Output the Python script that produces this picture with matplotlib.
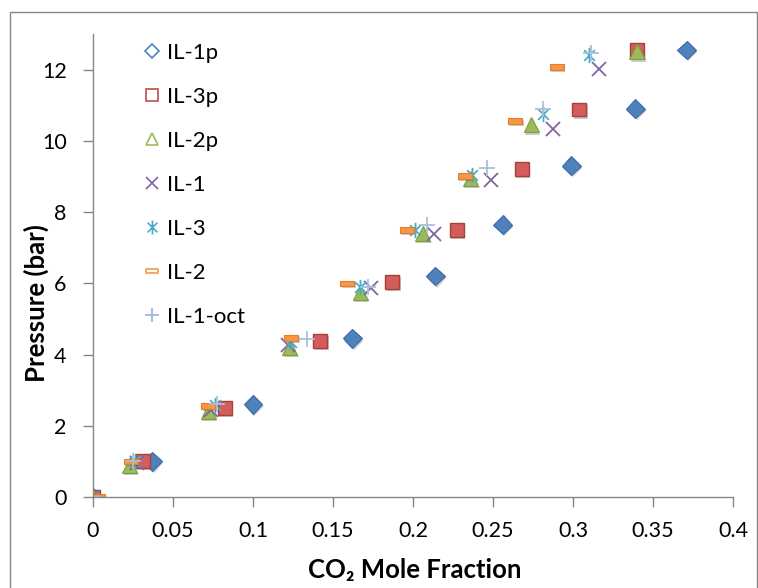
import numpy as np
import matplotlib
matplotlib.use('Agg')
import matplotlib.pyplot as plt
import matplotlib.patheffects as pe
from matplotlib.path import Path
from matplotlib.lines import Line2D
from matplotlib.patches import Rectangle

plt.rcParams['font.family'] = ['Lato', 'DejaVu Sans']

# datos
il1p_x = [0, 0.037, 0.100, 0.162, 0.214, 0.256, 0.299, 0.339, 0.371]
il1p_y = [0, 1.0, 2.6, 4.45, 6.2, 7.65, 9.3, 10.9, 12.55]
il3p_x = [0, 0.031, 0.0825, 0.142, 0.187, 0.2275, 0.268, 0.304, 0.340]
il3p_y = [0, 1.0, 2.5, 4.38, 6.04, 7.5, 9.2, 10.88, 12.55]
il2p_x = [0, 0.023, 0.072, 0.123, 0.167, 0.206, 0.236, 0.274, 0.340]
il2p_y = [0, 0.9, 2.4, 4.2, 5.75, 7.4, 8.95, 10.45, 12.5]
il1_x = [0, 0.0275, 0.074, 0.122, 0.174, 0.213, 0.249, 0.2875, 0.316]
il1_y = [0, 0.95, 2.45, 4.27, 5.87, 7.39, 8.9, 10.34, 12.03]
il3_x = [0, 0.026, 0.076, 0.124, 0.167, 0.201, 0.237, 0.281, 0.310]
il3_y = [0, 1.0, 2.58, 4.35, 5.9, 7.5, 9.05, 10.74, 12.42]
il2_x = [0.003, 0.024, 0.072, 0.124, 0.159, 0.196, 0.2325, 0.264, 0.290]
il2_y = [0, 1.0, 2.55, 4.47, 6.0, 7.5, 9.02, 10.56, 12.08]
il1oct_x = [0, 0.025, 0.0775, 0.134, 0.172, 0.209, 0.246, 0.281, 0.311]
il1oct_y = [0, 1.0, 2.6, 4.44, 5.9, 7.63, 9.24, 10.88, 12.48]

etiquetas = ['IL-1p', 'IL-3p', 'IL-2p', 'IL-1', 'IL-3', 'IL-2', 'IL-1-oct']
xticks = [0, 0.05, 0.1, 0.15, 0.2, 0.25, 0.3, 0.35, 0.4]
xticklabels = ['0', '0.05', '0.1', '0.15', '0.2', '0.25', '0.3', '0.35', '0.4']
yticks = [0, 2, 4, 6, 8, 10, 12]

# marcadores propios: rectangulo naranja y asterisco
rect = Path([(-1, -0.4), (1, -0.4), (1, 0.4), (-1, 0.4), (-1, -0.4)],
            [Path.MOVETO, Path.LINETO, Path.LINETO, Path.LINETO, Path.CLOSEPOLY])
ast = Path([(0, -1), (0, 1), (-0.7, -0.7), (0.7, 0.7), (-0.7, 0.7), (0.7, -0.7)],
           [Path.MOVETO, Path.LINETO, Path.MOVETO, Path.LINETO, Path.MOVETO, Path.LINETO])

fig = plt.figure(figsize=(7.58, 5.88), dpi=100)
ax = fig.add_axes([0.1227, 0.1548, 0.8443, 0.7874])

gris = '#868686'
sombra = [pe.SimplePatchShadow(offset=(1, -1.5), alpha=0.25), pe.Normal()]
ax.plot(il1p_x, il1p_y, ls='none', marker='D', ms=9.5, mfc='#4F81BD', mec='#3A6AA5', mew=0.8,
        path_effects=sombra)
ax.plot(il3p_x, il3p_y, ls='none', marker='s', ms=10, mfc='#D35D5A', mec='#A8403D', mew=1,
        path_effects=sombra)
ax.plot(il2p_x, il2p_y, ls='none', marker='^', ms=11, mfc='#9BBB59', mec='#7E9C44', mew=0.8,
        path_effects=sombra)
ax.plot(il1_x, il1_y, ls='none', marker='x', ms=10, mec='#8064A2', mew=1.3)
ax.plot(il3_x, il3_y, ls='none', marker=ast, ms=11, mfc='none', mec='#4BACC6', mew=1.3)
ax.plot(il2_x, il2_y, ls='none', marker=rect, ms=10, mfc='#F79646', mec='#E0802E', mew=0.8,
        path_effects=sombra)
ax.plot(il1oct_x, il1oct_y, ls='none', marker='+', ms=11, mec='#A7C0DE', mew=1.3)

ax.set_xlim(0, 0.4)
ax.set_ylim(0, 13)
ax.set_xticks(xticks)
ax.set_xticklabels(xticklabels)
ax.set_yticks(yticks)
for s in ['top', 'right']:
    ax.spines[s].set_visible(False)
for s in ['left', 'bottom']:
    ax.spines[s].set_color(gris)
    ax.spines[s].set_linewidth(1)
ax.tick_params(direction='out', length=7, width=1, color=gris, labelsize=15.5)
ax.tick_params(axis='y', pad=12)
ax.tick_params(axis='x', pad=10)

# titulos de ejes en posicion fija (pixeles de la figura)
fig.text(415 / 758, 1 - 578 / 588, 'CO\u2082 Mole Fraction', fontsize=18.5, fontweight='bold',
         ha='center', va='baseline')
fig.text(36 / 758, 1 - 303 / 588, 'Pressure (bar)', fontsize=18.5, fontweight='bold',
         ha='center', va='center', rotation=90)

# leyenda con marcadores huecos
handles = [
    Line2D([], [], ls='none', marker='D', ms=7, mfc='none', mec='#4F81BD', mew=1.2),
    Line2D([], [], ls='none', marker='s', ms=9, mfc='none', mec='#C0504D', mew=1.2),
    Line2D([], [], ls='none', marker='^', ms=9, mfc='none', mec='#9BBB59', mew=1.2),
    Line2D([], [], ls='none', marker='x', ms=9, mec='#8064A2', mew=1.2),
    Line2D([], [], ls='none', marker=ast, ms=10, mfc='none', mec='#4BACC6', mew=1.2),
    Line2D([], [], ls='none', marker=rect, ms=8, mfc='none', mec='#F79646', mew=1.2),
    Line2D([], [], ls='none', marker='+', ms=10, mec='#95B3D7', mew=1.2),
]
ax.legend(handles, etiquetas, loc='upper left', bbox_to_anchor=(0.054, 1.015),
          frameon=False, fontsize=16, handlelength=0.8, handletextpad=0.28,
          labelspacing=1.08, borderpad=0.2)

# marco de la figura
fig.patches.append(Rectangle((10 / 758, -0.01), 746.5 / 758, 1 - 12 / 588 + 0.01,
                             transform=fig.transFigure, fill=False, ec=gris, lw=1))

fig.savefig('out.png', dpi=100)
